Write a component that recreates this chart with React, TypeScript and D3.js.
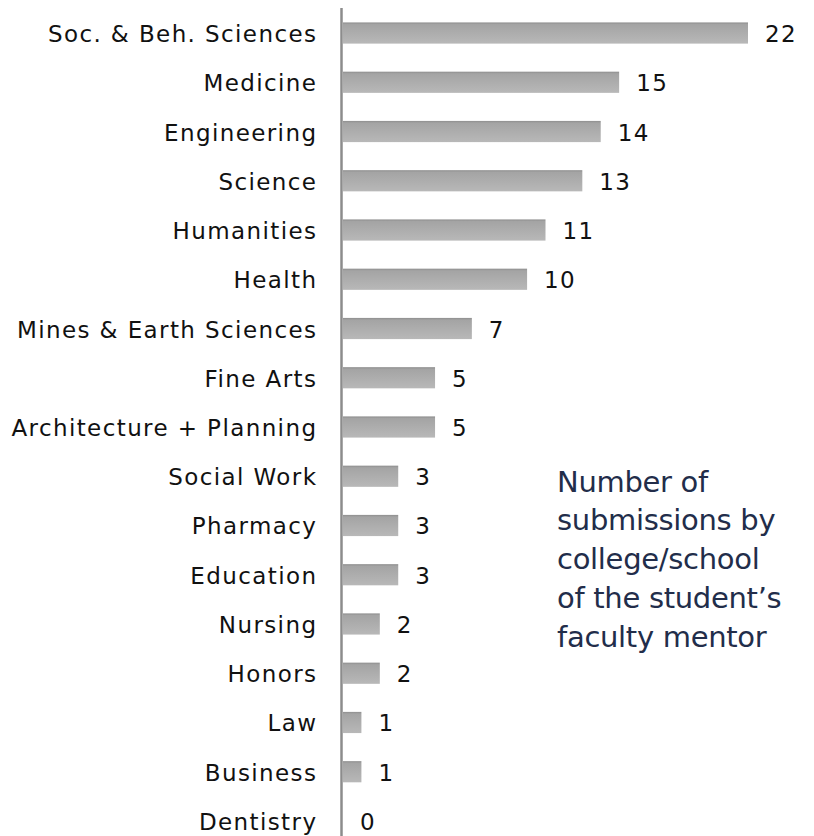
import React from "react";
import * as d3 from "d3";

const categories = [
  "Soc. & Beh. Sciences",
  "Medicine",
  "Engineering",
  "Science",
  "Humanities",
  "Health",
  "Mines & Earth Sciences",
  "Fine Arts",
  "Architecture + Planning",
  "Social Work",
  "Pharmacy",
  "Education",
  "Nursing",
  "Honors",
  "Law",
  "Business",
  "Dentistry",
];
const values = [22, 15, 14, 13, 11, 10, 7, 5, 5, 3, 3, 3, 2, 2, 1, 1, 0];
const noteLines = [
  "Number of",
  "submissions by",
  "college/school",
  "of the student\u2019s",
  "faculty mentor",
];

const W = 814;
const H = 836;
const FONT = "'DejaVu Sans', sans-serif";

export default function App() {
  const x = d3.scaleLinear().domain([0, 22]).range([343, 748]);
  const y = d3
    .scaleBand<string>()
    .domain(categories)
    .range([8.4, 845.6])
    .paddingInner(0.57)
    .paddingOuter(0.285);
  const bw = y.bandwidth();

  return (
    <svg
      width={W}
      height={H}
      style={{ position: "absolute", left: 0, top: 0, background: "#fff" }}
    >
      <defs>
        <linearGradient id="barGrad" x1="0" y1="0" x2="0" y2="1">
          <stop offset="0" stopColor="#8e8e8e" />
          <stop offset="0.1" stopColor="#a4a4a4" />
          <stop offset="1" stopColor="#b8b8b8" />
        </linearGradient>
      </defs>
      {categories.map((c, i) => {
        const yc = (y(c) as number) + bw / 2;
        const v = values[i];
        return (
          <g key={c}>
            {v > 0 && (
              <rect
                x={x(0)}
                y={y(c)}
                width={x(v) - x(0)}
                height={bw}
                fill="url(#barGrad)"
              />
            )}
            <text
              x={317.4}
              y={yc + 9}
              textAnchor="end"
              fontFamily={FONT}
              fontSize={23}
              letterSpacing={1.4}
              fill="#111"
            >
              {c}
            </text>
            <text
              x={x(v) + 17}
              y={yc + 9}
              textAnchor="start"
              fontFamily={FONT}
              fontSize={23}
              letterSpacing={1.4}
              fill="#111"
            >
              {v}
            </text>
          </g>
        );
      })}
      <line
        x1={341.5}
        x2={341.5}
        y1={8}
        y2={H}
        stroke="#8c8c8c"
        strokeWidth={2.5}
      />
      {noteLines.map((t, i) => (
        <text
          key={t}
          x={557}
          y={491.7 + i * 38.7}
          fontFamily={FONT}
          fontSize={29}
          letterSpacing={-0.3}
          fill="#222d4a"
        >
          {t}
        </text>
      ))}
    </svg>
  );
}
